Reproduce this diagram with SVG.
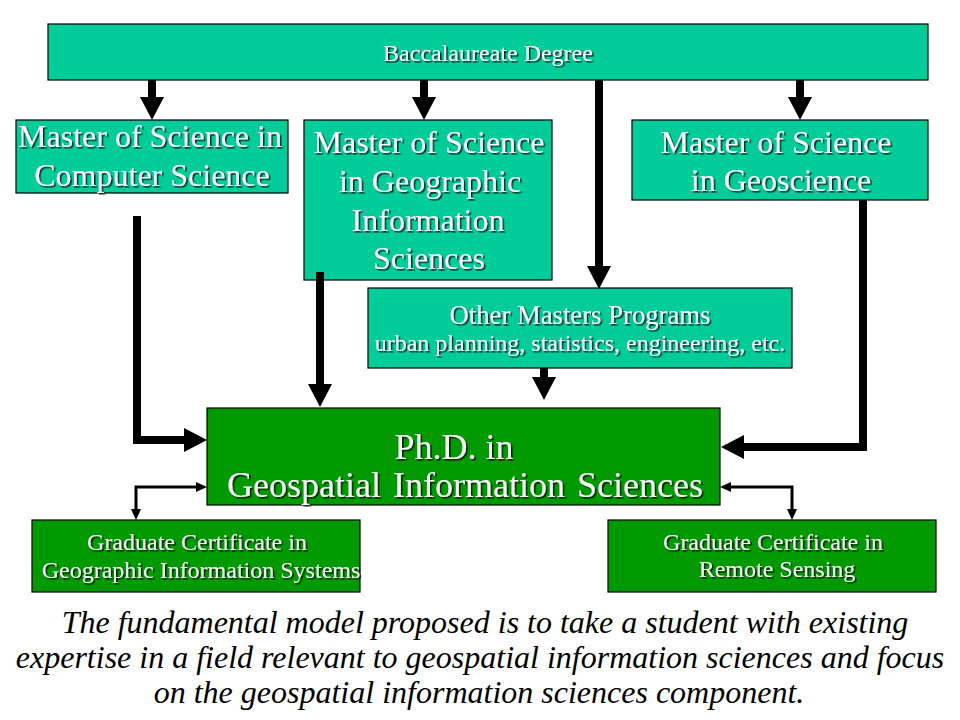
<svg xmlns="http://www.w3.org/2000/svg" width="960" height="720" viewBox="0 0 960 720">
<style>
.teal{fill:#00CC99;stroke:#000;stroke-width:1.2}
.green{fill:#009900;stroke:#000;stroke-width:1.2}
.t{font-family:"Liberation Serif","Times New Roman",serif;fill:#fff;text-anchor:middle;filter:url(#sh)}
.s24{font-size:24px}
.s27{font-size:26.7px}
.s32{font-size:32px}
.s36{font-size:36px}
.thick{fill:none;stroke:#000;stroke-width:8;stroke-linejoin:miter}
.thin{fill:none;stroke:#000;stroke-width:3;stroke-linejoin:miter}
.cap{font-family:"Liberation Serif","Times New Roman",serif;font-style:italic;font-size:32px;fill:#000;text-anchor:middle}
</style>
<defs>
<filter id="sh" x="-10%" y="-30%" width="120%" height="160%">
<feDropShadow dx="1.6" dy="1.6" stdDeviation="0.6" flood-color="#000" flood-opacity="0.75"/>
</filter>
<marker id="ah" markerUnits="userSpaceOnUse" markerWidth="24" markerHeight="24" viewBox="0 0 23 24" refX="0" refY="12" orient="auto">
<path d="M0,0 L23,12 L0,24 z" fill="#000"/>
</marker>
<marker id="ahs" markerUnits="userSpaceOnUse" markerWidth="11" markerHeight="10" viewBox="0 0 11 10" refX="0" refY="5" orient="auto-start-reverse">
<path d="M0,0 L11,5 L0,10 z" fill="#000"/>
</marker>
</defs>
<rect width="960" height="720" fill="#fff"/>

<g id="bacc">
<rect class="teal" x="48" y="24" width="880" height="56"/>
<text class="t s24" x="488" y="61">Baccalaureate Degree</text>
</g>

<g id="ms-cs">
<rect class="teal" x="16" y="120" width="272" height="73"/>
<text class="t s32" x="150" y="147">Master of Science in</text>
<text class="t s32" x="152" y="186">Computer Science</text>
</g>

<g id="ms-gis">
<rect class="teal" x="304" y="120" width="248" height="160"/>
<text class="t s32" x="429" y="153">Master of Science</text>
<text class="t s32" x="430" y="192">in Geographic</text>
<text class="t s32" x="428" y="231">Information</text>
<text class="t s32" x="429" y="269">Sciences</text>
</g>

<g id="ms-geo">
<rect class="teal" x="632" y="120" width="296" height="80"/>
<text class="t s32" x="776" y="153">Master of Science</text>
<text class="t s32" x="781" y="191">in Geoscience</text>
</g>

<g id="other">
<rect class="teal" x="368" y="288" width="424" height="80"/>
<text class="t s27" x="580" y="324">Other Masters Programs</text>
<text class="t s24" x="580" y="351">urban planning, statistics, engineering, etc.</text>
</g>

<g id="phd">
<rect class="green" x="207" y="408" width="513" height="97"/>
<text class="t s36" x="454" y="459">Ph.D. in</text>
<text class="t s36" x="465" y="497" word-spacing="3">Geospatial Information Sciences</text>
</g>

<g id="cert-gis">
<rect class="green" x="32" y="520" width="328" height="72"/>
<text class="t s24" x="197" y="550">Graduate Certificate in</text>
<text class="t s24" x="201" y="578">Geographic Information Systems</text>
</g>

<g id="cert-rs">
<rect class="green" x="608" y="520" width="328" height="72"/>
<text class="t s24" x="773" y="550">Graduate Certificate in</text>
<text class="t s24" x="777" y="577">Remote Sensing</text>
</g>

<g id="connectors">
<path class="thick" d="M152,80 V97" marker-end="url(#ah)"/>
<path class="thick" d="M424,80 V97" marker-end="url(#ah)"/>
<path class="thick" d="M800,80 V97" marker-end="url(#ah)"/>
<path class="thick" d="M599,80 V266" marker-end="url(#ah)"/>
<path class="thick" d="M137,216 V440 H184" marker-end="url(#ah)"/>
<path class="thick" d="M320,272 V384" marker-end="url(#ah)"/>
<path class="thick" d="M544,368 V377" marker-end="url(#ah)"/>
<path class="thick" d="M863,200 V447 H744" marker-end="url(#ah)"/>
<path class="thin" d="M196,487 H136 V509" marker-start="url(#ahs)" marker-end="url(#ahs)"/>
<path class="thin" d="M731,487 H792 V509" marker-start="url(#ahs)" marker-end="url(#ahs)"/>
</g>

<g id="caption">
<text class="cap" x="485" y="633">The fundamental model proposed is to take a student with existing</text>
<text class="cap" x="480" y="668">expertise in a field relevant to geospatial information sciences and focus</text>
<text class="cap" x="479" y="703">on the geospatial information sciences component.</text>
</g>
</svg>
